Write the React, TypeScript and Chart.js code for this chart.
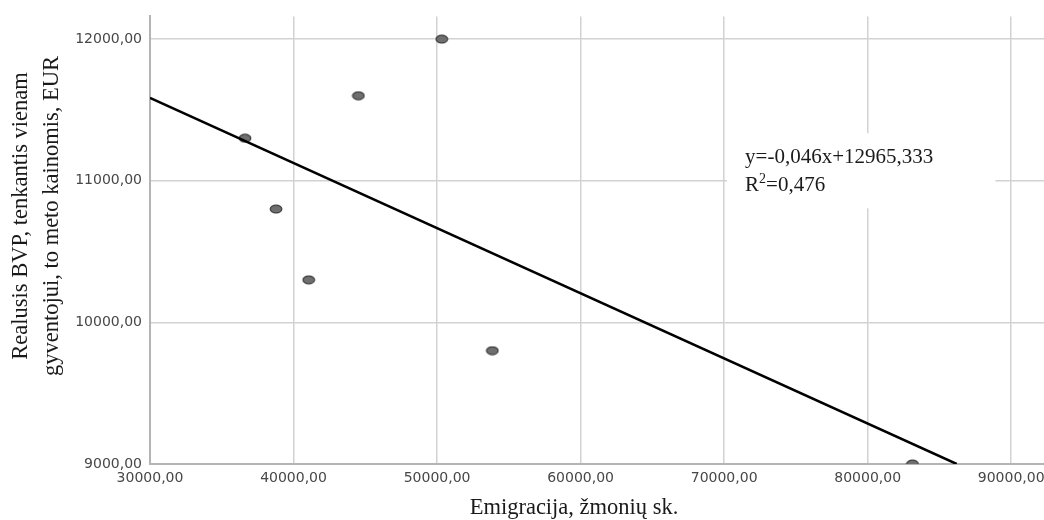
import React, { useEffect, useRef } from "react";
import { Chart, registerables } from "chart.js";

Chart.register(...registerables);

// ---- data ----
const emigration = [36620, 38780, 41060, 44520, 50330, 53850, 83120];
const gdpPerCapita = [11300, 10800, 10300, 11600, 12000, 9800, 9000];
const xTickValues = [30000, 40000, 50000, 60000, 70000, 80000, 90000];
const yTickValues = [9000, 10000, 11000, 12000];
const slope = -0.046;
const intercept = 12965.333;
const equationLines = ["y=-0,046x+12965,333", "R", "2", "=0,476"];
const xTitle = "Emigracija, žmonių sk.";
const yTitleLines = ["Realusis BVP, tenkantis vienam", "gyventojui, to meto kainomis, EUR"];

// ---- layout config ----
const X_MIN = 30000;
const X_MAX = 93400;
const Y_MIN = 9000;
const Y_MAX = 12160;
const SERIF = "'Liberation Serif', 'Times New Roman', serif";
const SANS = "'DejaVu Sans', sans-serif";
const annotationBox = { x0: 70200, x1: 88900, y0: 11335, y1: 10805, textX: 71460 };

const fmt = (v: number) => v.toFixed(2).replace(".", ",");

function makeEllipse(): HTMLCanvasElement {
  const c = document.createElement("canvas");
  c.width = 14;
  c.height = 10;
  const ctx = c.getContext("2d")!;
  ctx.beginPath();
  ctx.ellipse(7, 5, 5.8, 3.8, 0, 0, Math.PI * 2);
  ctx.fillStyle = "#6f6f6f";
  ctx.fill();
  ctx.lineWidth = 1.2;
  ctx.strokeStyle = "#3a3a3a";
  ctx.stroke();
  return c;
}

const textPlugin = {
  id: "customText",
  beforeDatasetsDraw(chart: any) {
    const { ctx, scales } = chart;
    const xs = scales.x;
    const ys = scales.y;
    const bx0 = xs.getPixelForValue(annotationBox.x0);
    const bx1 = xs.getPixelForValue(annotationBox.x1);
    const by0 = ys.getPixelForValue(annotationBox.y0);
    const by1 = ys.getPixelForValue(annotationBox.y1);
    ctx.save();
    ctx.fillStyle = "#ffffff";
    ctx.fillRect(bx0, by0, bx1 - bx0, by1 - by0);
    const tx = xs.getPixelForValue(annotationBox.textX);
    ctx.fillStyle = "#1a1a1a";
    ctx.textBaseline = "alphabetic";
    ctx.textAlign = "left";
    ctx.font = `21px ${SERIF}`;
    ctx.fillText(equationLines[0], tx, by0 + 30);
    const l2 = by0 + 58;
    ctx.fillText(equationLines[1], tx, l2);
    const w = ctx.measureText(equationLines[1]).width;
    ctx.font = `14px ${SERIF}`;
    ctx.fillText(equationLines[2], tx + w, l2 - 8);
    const w2 = ctx.measureText(equationLines[2]).width;
    ctx.font = `21px ${SERIF}`;
    ctx.fillText(equationLines[3], tx + w + w2, l2);
    ctx.restore();
  },
  afterDraw(chart: any) {
    const { ctx } = chart;
    ctx.save();
    ctx.fillStyle = "#1a1a1a";
    ctx.font = `22.5px ${SERIF}`;
    ctx.textAlign = "center";
    ctx.textBaseline = "alphabetic";
    ctx.fillText(xTitle, 574, 514);
    ctx.translate(0, 216);
    ctx.rotate(-Math.PI / 2);
    ctx.fillText(yTitleLines[0], 0, 27);
    ctx.fillText(yTitleLines[1], 0, 58);
    ctx.restore();
  },
};

export default function App() {
  const ref = useRef<HTMLCanvasElement>(null);
  useEffect(() => {
    const canvas = ref.current!;
    const points = emigration.map((x, i) => ({ x, y: gdpPerCapita[i] }));
    const xEnd = (Y_MIN - intercept) / slope;
    const fitLine = [
      { x: X_MIN, y: intercept + slope * X_MIN },
      { x: xEnd, y: intercept + slope * xEnd },
    ];
    const chart = new Chart(canvas, {
      type: "scatter",
      data: {
        datasets: [
          {
            type: "line",
            data: fitLine,
            borderColor: "#000000",
            borderWidth: 2.5,
            pointRadius: 0,
            showLine: true,
            fill: false,
            order: 0,
          } as any,
          {
            data: points,
            pointStyle: makeEllipse(),
            pointRadius: 6,
            order: 1,
          } as any,
        ],
      },
      options: {
        animation: false,
        responsive: false,
        maintainAspectRatio: false,
        layout: { padding: { top: 15, right: 0, left: 0, bottom: 0 }, autoPadding: false } as any,
        plugins: { legend: { display: false }, tooltip: { enabled: false }, title: { display: false } },
        scales: {
          x: {
            type: "linear",
            min: X_MIN,
            max: X_MAX,
            afterBuildTicks: (s: any) => {
              s.ticks = xTickValues.map((v) => ({ value: v }));
            },
            afterFit: (s: any) => {
              s.height = 56;
            },
            grid: { color: "#d2d2d2", lineWidth: 1.5, drawTicks: false },
            border: { color: "#b4b4b4", width: 2 },
            ticks: {
              padding: 6,
              maxRotation: 0,
              autoSkip: false,
              color: "#474747",
              font: { family: SANS, size: 14 },
              callback: (v: any) => fmt(Number(v)),
            },
          },
          y: {
            type: "linear",
            min: Y_MIN,
            max: Y_MAX,
            afterBuildTicks: (s: any) => {
              s.ticks = yTickValues.map((v) => ({ value: v }));
            },
            afterFit: (s: any) => {
              s.width = 150;
            },
            grid: { color: "#d2d2d2", lineWidth: 1.5, drawTicks: false },
            border: { color: "#b4b4b4", width: 2 },
            ticks: {
              padding: 8,
              autoSkip: false,
              color: "#474747",
              font: { family: SANS, size: 14 },
              callback: (v: any) => fmt(Number(v)),
            },
          },
        },
      },
      plugins: [textPlugin],
    });
    return () => chart.destroy();
  }, []);
  return (
    <div style={{ position: "absolute", left: 0, top: 0, width: 1044, height: 520, background: "#fff", overflow: "hidden" }}>
      <canvas ref={ref} width={1060} height={520} />
    </div>
  );
}
